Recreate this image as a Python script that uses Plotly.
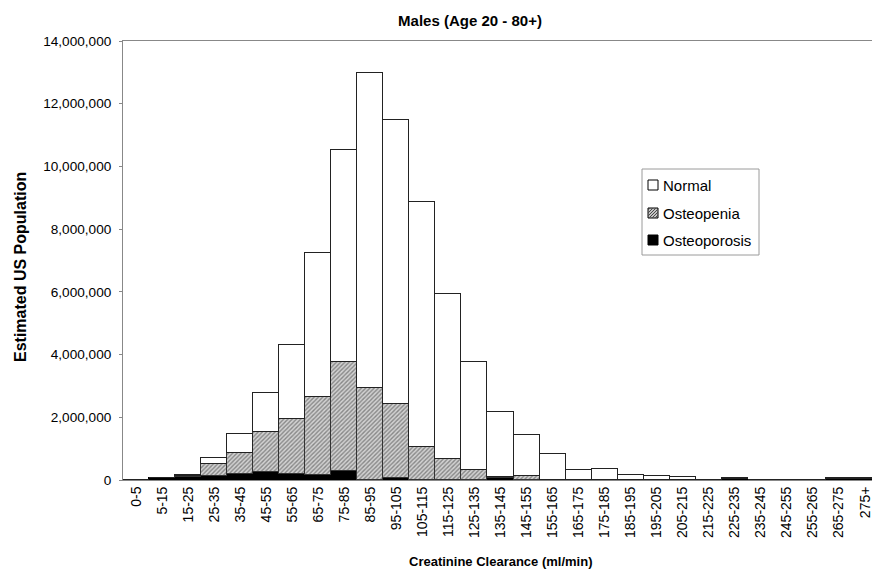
import plotly.graph_objects as go

categories = ["0-5", "5-15", "15-25", "25-35", "35-45", "45-55", "55-65", "65-75", "75-85",
              "85-95", "95-105", "105-115", "115-125", "125-135", "135-145", "145-155",
              "155-165", "165-175", "175-185", "185-195", "195-205", "205-215", "215-225",
              "225-235", "235-245", "245-255", "255-265", "265-275", "275+"]

total = [5000, 60000, 170000, 690000, 1480000, 2770000, 4320000, 7250000, 10520000,
         12980000, 11480000, 8870000, 5930000, 3760000, 2160000, 1430000,
         840000, 320000, 350000, 170000, 120000, 85000, 15000,
         50000, 8000, 8000, 8000, 50000, 50000]
osteopenia = [0, 5000, 30000, 370000, 680000, 1250000, 1760000, 2480000, 3460000,
              2930000, 2370000, 1060000, 680000, 300000, 50000, 128000,
              0, 0, 0, 0, 0, 0, 0,
              0, 0, 0, 0, 0, 0]
osteoporosis = [2000, 55000, 110000, 140000, 190000, 270000, 190000, 160000, 300000,
                5000, 50000, 5000, 5000, 5000, 50000, 0,
                0, 0, 0, 0, 0, 0, 0,
                40000, 0, 0, 0, 40000, 40000]
normal = [t - a - b for t, a, b in zip(total, osteopenia, osteoporosis)]

legend_labels = ["Normal", "Osteopenia", "Osteoporosis"]

FONT = "Liberation Sans, Arial, sans-serif"
W, H = 872, 564
ML, MR, MT, MB = 115, 2, 33, 92
PW, PH = W - ML - MR, H - MT - MB


def px_x(x):
    return (x - ML) / PW


def px_y(y):
    return 1 - (y - MT) / PH


fig = go.Figure()
fig.add_trace(go.Bar(x=categories, y=osteoporosis, name="Osteoporosis",
                     marker=dict(color="black", line=dict(color="black", width=1))))
fig.add_trace(go.Bar(x=categories, y=osteopenia, name="Osteopenia",
                     marker=dict(color="#b5b5b5", line=dict(color="#333333", width=1),
                                 pattern=dict(shape="/", fgcolor="#3c3c3c", bgcolor="#d2d2d2",
                                              size=3, solidity=0.45))))
fig.add_trace(go.Bar(x=categories, y=normal, name="Normal",
                     marker=dict(color="white", line=dict(color="#222222", width=1))))

# manual legend
shapes = []
annotations = []
shapes.append(dict(type="rect", xref="paper", yref="paper",
                   x0=px_x(634), x1=px_x(751), y0=px_y(247), y1=px_y(161),
                   line=dict(color="#9a9a9a", width=1), fillcolor="white", layer="above"))
sym_fill = ["white", "#c4c4c4", "black"]
item_y = [177, 205, 232]
for lab, fc, yc in zip(legend_labels, sym_fill, item_y):
    x0, x1, yb, yt = 640, 650, yc + 5, yc - 5
    shapes.append(dict(type="rect", xref="paper", yref="paper",
                       x0=px_x(x0), x1=px_x(x1), y0=px_y(yb), y1=px_y(yt),
                       line=dict(color="black", width=1), fillcolor=fc, layer="above"))
    if lab == "Osteopenia":
        # diagonal hatch lines clipped to the 10x10 square
        for k in range(-8, 10, 3):
            sx, sy = (x0 + k, yb) if k >= 0 else (x0, yb + k)
            length = 10 - abs(k)
            shapes.append(dict(type="line", xref="paper", yref="paper",
                               x0=px_x(sx), y0=px_y(sy),
                               x1=px_x(sx + length), y1=px_y(sy - length),
                               line=dict(color="#4a4a4a", width=1), layer="above"))
    annotations.append(dict(text=lab, xref="paper", yref="paper", x=px_x(653), y=px_y(yc),
                            xanchor="left", yanchor="middle", showarrow=False,
                            font=dict(size=15, family=FONT, color="black")))

# axis titles
annotations.append(dict(text="<b>Creatinine Clearance (ml/min)</b>", xref="paper", yref="paper",
                        x=0.5, y=px_y(553), xanchor="center", yanchor="middle", showarrow=False,
                        font=dict(size=13, family=FONT)))
annotations.append(dict(text="<b>Estimated US Population</b>", xref="paper", yref="paper",
                        x=px_x(12), y=px_y(259), xanchor="center", yanchor="middle",
                        showarrow=False, textangle=-90, font=dict(size=16, family=FONT)))

fig.update_layout(
    barmode="stack",
    bargap=0,
    width=W, height=H,
    margin=dict(l=ML, r=MR, t=MT, b=MB, autoexpand=False),
    paper_bgcolor="white", plot_bgcolor="white",
    font=dict(family=FONT, size=12, color="black"),
    title=dict(text="<b>Males (Age 20 - 80+)</b>", x=462 / W, xanchor="center",
               y=1 - 13 / H, yanchor="middle", font=dict(size=15)),
    showlegend=False,
    shapes=shapes,
    annotations=annotations,
    xaxis=dict(tickangle=-90, tickfont=dict(size=14), showline=True, linecolor="#888888",
               mirror=True, ticks="", automargin=False),
    yaxis=dict(range=[0, 14000000], tickvals=list(range(0, 14000001, 2000000)),
               tickformat=",d", tickfont=dict(size=13.6), showline=True, linecolor="#888888",
               mirror=True, ticks="outside", ticklen=3, tickcolor="#888888",
               ticklabelstandoff=5, showgrid=False, zeroline=False, automargin=False),
)

fig.write_html("out.html")
